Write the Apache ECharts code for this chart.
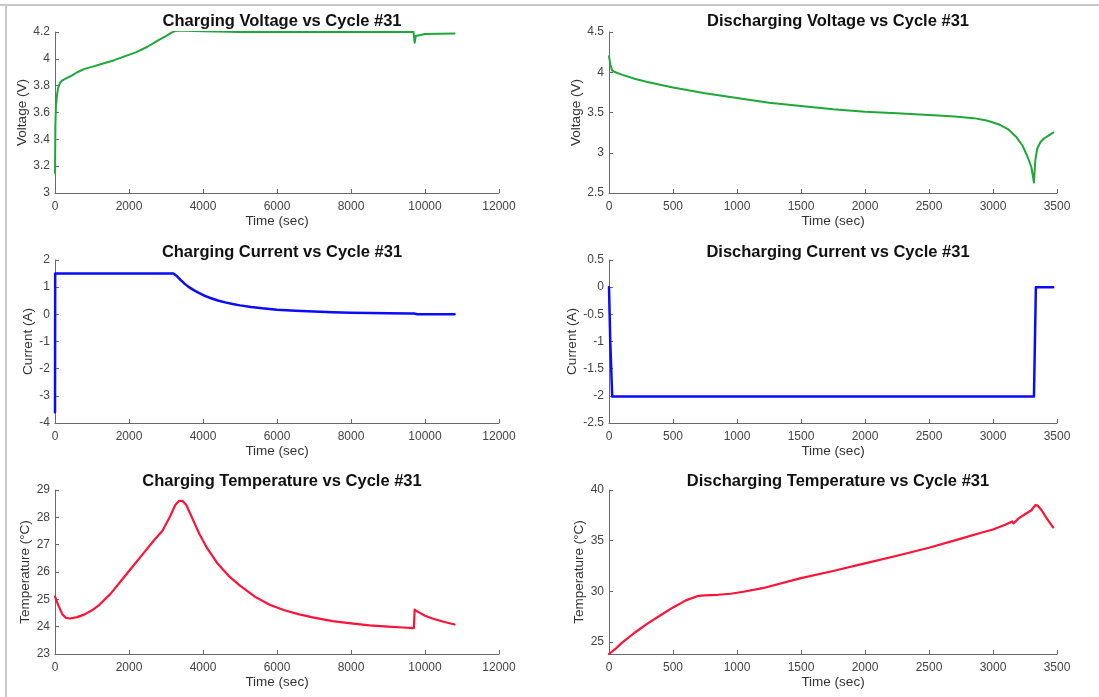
<!DOCTYPE html>
<html>
<head>
<meta charset="utf-8">
<title>Cycle #31</title>
<script src="https://cdn.jsdelivr.net/npm/echarts@6/dist/echarts.min.js"></script>
<style>
  html, body { margin: 0; padding: 0; background: #fff; }
  #chart { width: 1099px; height: 697px; }
</style>
</head>
<body>
<div id="chart"></div>
<script>
// charging voltage
var chgVoltTime = [0, 10, 25, 50, 80, 130, 200, 300, 450, 600, 800, 1000, 1300, 1600, 1900, 2200, 2500, 2800, 3000, 3150, 3250, 3350, 3500, 4000, 5000, 6000, 7000, 8000, 9000, 9690, 9720, 9750, 9800, 10000, 10400, 10800];
var chgVolt = [3.15, 3.5, 3.65, 3.72, 3.78, 3.82, 3.84, 3.855, 3.875, 3.9, 3.925, 3.94, 3.965, 3.99, 4.02, 4.05, 4.09, 4.14, 4.17, 4.195, 4.208, 4.21, 4.21, 4.205, 4.2, 4.2, 4.2, 4.2, 4.2, 4.2, 4.12, 4.17, 4.18, 4.185, 4.187, 4.188];

// discharging voltage
var disVoltTime = [0, 10, 25, 50, 100, 200, 300, 500, 750, 1000, 1250, 1500, 1750, 2000, 2250, 2500, 2700, 2850, 2950, 3050, 3120, 3180, 3230, 3270, 3300, 3320, 3330, 3345, 3370, 3400, 3440, 3470];
var disVolt = [4.2, 4.1, 4.02, 4.0, 3.97, 3.92, 3.88, 3.81, 3.74, 3.68, 3.62, 3.58, 3.54, 3.51, 3.49, 3.47, 3.45, 3.43, 3.4, 3.35, 3.29, 3.2, 3.09, 2.95, 2.82, 2.63, 2.9, 3.05, 3.13, 3.18, 3.22, 3.25];

// charging current
var chgCurrTime = [0, 5, 15, 3200, 3300, 3400, 3500, 3600, 3750, 3900, 4050, 4200, 4400, 4600, 4800, 5000, 5300, 5600, 6000, 6500, 7000, 7500, 8000, 8500, 9000, 9600, 9700, 9800, 10000, 10800];
var chgCurr = [-3.6, 1.5, 1.5, 1.5, 1.4, 1.26, 1.13, 1.02, 0.89, 0.78, 0.68, 0.6, 0.51, 0.44, 0.38, 0.33, 0.27, 0.22, 0.17, 0.13, 0.1, 0.08, 0.06, 0.05, 0.04, 0.035, 0.03, 0.0, 0.0, 0.0];

// discharging current
var disCurrTime = [0, 10, 25, 3320, 3335, 3350, 3470];
var disCurr = [0, -1.0, -2.01, -2.01, 0, 0, 0];

// charging temperature
var chgTempTime = [0, 100, 200, 300, 400, 600, 800, 1000, 1200, 1500, 1800, 2100, 2400, 2700, 2900, 3100, 3250, 3350, 3450, 3550, 3700, 3900, 4100, 4400, 4700, 5000, 5400, 5800, 6200, 6600, 7000, 7500, 8000, 8500, 9000, 9400, 9700, 9720, 9800, 10000, 10200, 10500, 10800];
var chgTemp = [25.1, 24.75, 24.45, 24.32, 24.3, 24.35, 24.45, 24.6, 24.8, 25.2, 25.7, 26.2, 26.7, 27.2, 27.5, 28.0, 28.45, 28.6, 28.6, 28.45, 28.0, 27.4, 26.9, 26.3, 25.85, 25.5, 25.1, 24.8, 24.6, 24.45, 24.33, 24.2, 24.12, 24.05, 24.0, 23.97, 23.95, 24.62, 24.55, 24.4, 24.3, 24.18, 24.08];

// discharging temperature
var disTempTime = [0, 50, 100, 200, 300, 400, 500, 600, 700, 750, 850, 950, 1050, 1200, 1500, 1750, 2000, 2250, 2500, 2750, 2900, 3000, 3100, 3150, 3160, 3200, 3250, 3300, 3330, 3350, 3380, 3420, 3470];
var disTemp = [23.8, 24.3, 24.9, 25.9, 26.8, 27.6, 28.4, 29.1, 29.55, 29.6, 29.65, 29.75, 29.95, 30.3, 31.3, 32.0, 32.75, 33.5, 34.3, 35.2, 35.75, 36.1, 36.6, 36.9, 36.7, 37.2, 37.6, 38.0, 38.5, 38.45, 38.0, 37.2, 36.3];

var titles = [
  'Charging Voltage vs Cycle #31', 'Discharging Voltage vs Cycle #31',
  'Charging Current vs Cycle #31', 'Discharging Current vs Cycle #31',
  'Charging Temperature vs Cycle #31', 'Discharging Temperature vs Cycle #31'
];
var yNames = ['Voltage (V)', 'Voltage (V)', 'Current (A)', 'Current (A)', 'Temperature (°C)', 'Temperature (°C)'];

function pairs(t, v) {
  return t.map(function (x, i) { return [x, v[i]]; });
}

var font = 'Liberation Sans, Arial, Helvetica, sans-serif';
var axisColor = '#6a6a6a';
var labelColor = '#444';

var grids = [
  { left: 55, top: 32, width: 444, height: 161 },
  { left: 609, top: 32, width: 448, height: 161 },
  { left: 55, top: 260, width: 444, height: 163 },
  { left: 609, top: 260, width: 448, height: 163 },
  { left: 55, top: 490, width: 444, height: 164 },
  { left: 609, top: 490, width: 448, height: 164 }
];

var yRanges = [
  { min: 3, max: 4.2, interval: 0.2 },
  { min: 2.5, max: 4.5, interval: 0.5 },
  { min: -4, max: 2, interval: 1 },
  { min: -2.5, max: 0.5, interval: 0.5 },
  { min: 23, max: 29, interval: 1 },
  { min: 23.8, max: 40, interval: 5 }
];

// gap between y axis line and its rotated name, per panel
var yNameGaps = [25, 25, 19, 26, 22, 22];
var titleY = [8, 239, 468];

function fmt(v) {
  return String(Math.round(v * 100) / 100);
}

var option = {
  animation: false,
  backgroundColor: '#fff',
  textStyle: { fontFamily: font },
  graphic: [
    { type: 'line', shape: { x1: 0, y1: 5, x2: 1099, y2: 5 }, style: { stroke: '#c8c8c8', lineWidth: 2 } },
    { type: 'line', shape: { x1: 6, y1: 5, x2: 6, y2: 697 }, style: { stroke: '#c8c8c8', lineWidth: 2 } }
  ],
  title: titles.map(function (t, i) {
    var g = grids[i];
    return {
      text: t,
      left: g.left + g.width / 2,
      top: titleY[Math.floor(i / 2)],
      textAlign: 'center',
      textStyle: { fontFamily: font, fontSize: 16.5, fontWeight: 'bold', color: '#111' }
    };
  }),
  grid: grids,
  xAxis: grids.map(function (g, i) {
    var left = i % 2 === 0;
    return {
      type: 'value',
      gridIndex: i,
      min: 0,
      max: left ? 12000 : 3500,
      interval: left ? 2000 : 500,
      name: 'Time (sec)',
      nameLocation: 'middle',
      nameGap: 21,
      nameTextStyle: { fontFamily: font, fontSize: 13.5, color: '#333' },
      splitLine: { show: false },
      axisLine: { show: true, onZero: false, lineStyle: { color: axisColor, width: 1 } },
      axisTick: { show: true, inside: true, length: 4, lineStyle: { color: axisColor } },
      axisLabel: { fontFamily: font, fontSize: 12, color: labelColor, margin: 8, formatter: fmt }
    };
  }),
  yAxis: grids.map(function (g, i) {
    var r = yRanges[i];
    var ax = {
      type: 'value',
      gridIndex: i,
      min: r.min,
      max: r.max,
      interval: r.interval,
      name: yNames[i],
      nameLocation: 'middle',
      nameRotate: 90,
      nameGap: yNameGaps[i],
      nameTextStyle: { fontFamily: font, fontSize: 13.5, color: '#333' },
      splitLine: { show: false },
      axisLine: { show: true, onZero: false, lineStyle: { color: axisColor, width: 1 } },
      axisTick: { show: true, inside: true, length: 4, lineStyle: { color: axisColor } },
      axisLabel: { fontFamily: font, fontSize: 12, color: labelColor, margin: 5, formatter: fmt }
    };
    if (i === 5) {
      ax.axisTick.customValues = [25, 30, 35, 40];
      ax.axisLabel.customValues = [25, 30, 35, 40];
    }
    return ax;
  }),
  series: [
    { data: pairs(chgVoltTime, chgVolt), color: '#1ea83a', width: 2 },
    { data: pairs(disVoltTime, disVolt), color: '#1ea83a', width: 2 },
    { data: pairs(chgCurrTime, chgCurr), color: '#0a0aff', width: 2.5 },
    { data: pairs(disCurrTime, disCurr), color: '#0a0aff', width: 2.5 },
    { data: pairs(chgTempTime, chgTemp), color: '#ff1238', width: 2.2 },
    { data: pairs(disTempTime, disTemp), color: '#ff1238', width: 2.2 }
  ].map(function (s, i) {
    return {
      type: 'line',
      xAxisIndex: i,
      yAxisIndex: i,
      data: s.data,
      showSymbol: false,
      smooth: false,
      clip: true,
      lineStyle: { color: s.color, width: s.width, join: 'round', cap: 'round' },
      itemStyle: { color: s.color }
    };
  })
};

var chart = echarts.init(document.getElementById('chart'));
chart.setOption(option);
</script>
</body>
</html>
